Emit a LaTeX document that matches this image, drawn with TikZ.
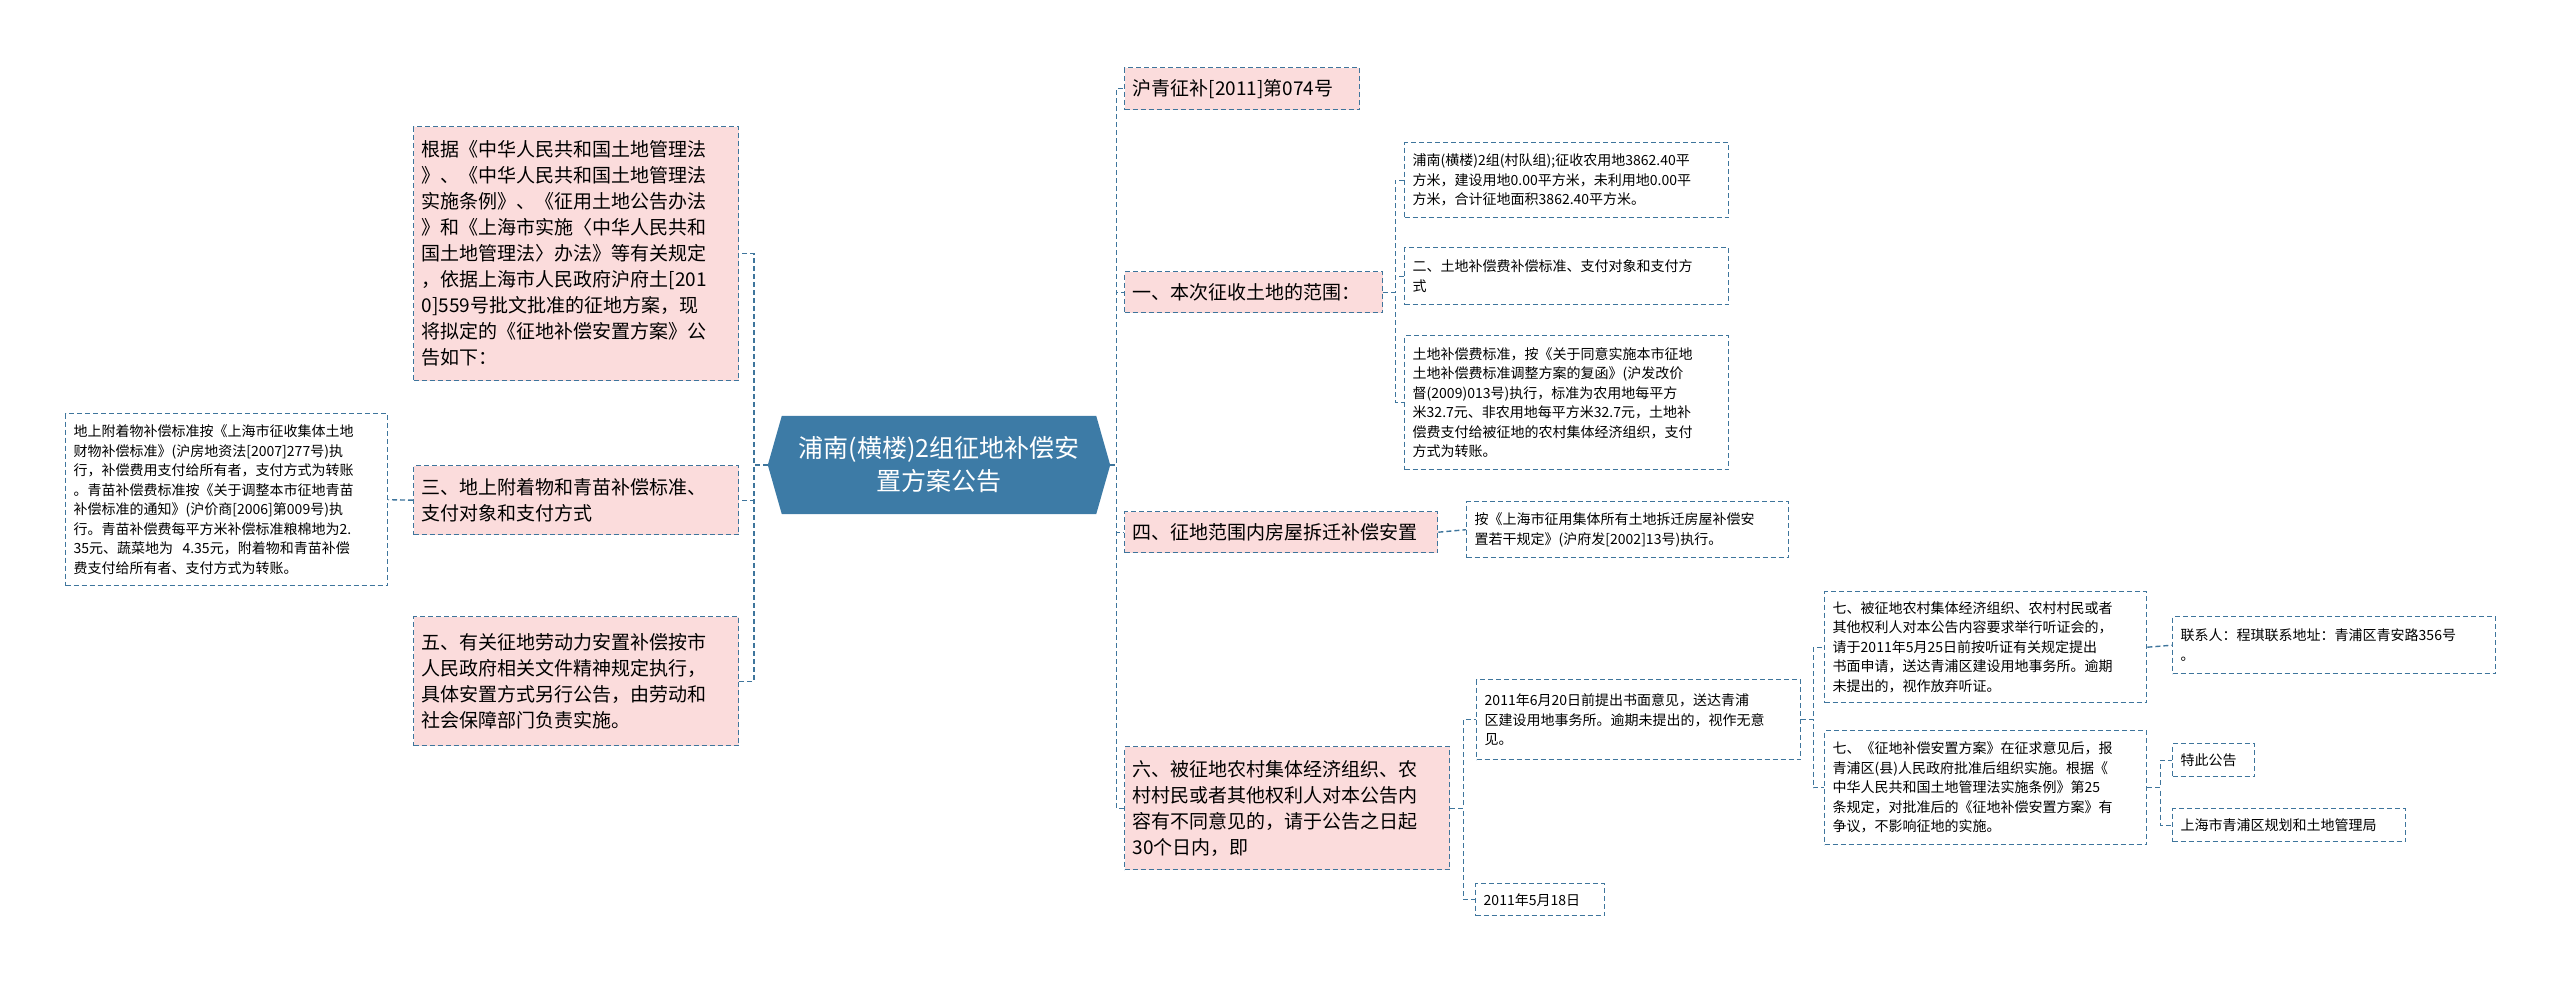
\documentclass[tikz,border=0pt]{standalone}
\usepackage{fontspec}
\setmainfont{Noto Sans CJK SC}
\definecolor{linec}{HTML}{3E759C}
\definecolor{pinkc}{HTML}{FBDCDC}
\definecolor{rootc}{HTML}{3D7BA6}
\begin{document}
\begin{tikzpicture}[x=1pt, y=-1pt,
  box/.style={draw=linec, dashed, line width=1.4pt, dash pattern=on 5pt off 3pt,
    anchor=north west, align=left, inner sep=8pt},
  big/.style={box, fill=pinkc, font=\fontsize{19}{26}\selectfont},
  small/.style={box, fill=white, font=\fontsize{14}{19.5}\selectfont},
  link/.style={draw=linec, dashed, line width=1.4pt, dash pattern=on 5pt off 3pt}]
\useasboundingbox (0,0) rectangle (2560,982);
% root
\node[text=white, font=\fontsize{25}{33}\selectfont, align=center,
  minimum width=342, minimum height=98] (root) at (939,465)
  {浦南(横楼)2组征地补偿安\\置方案公告};
\fill[rootc] (root.west) -- ([xshift=14]root.north west) -- ([xshift=-14]root.north east)
  -- (root.east) -- ([xshift=-14]root.south east) -- ([xshift=14]root.south west) -- cycle;
\node[text=white, font=\fontsize{25}{33}\selectfont, align=center] at (root) {浦南(横楼)2组征地补偿安\\置方案公告};
% left side
\node[big, text width=309, minimum height=254] (l1) at (413,126) {根据《中华人民共和国土地管理法\\》、《中华人民共和国土地管理法\\实施条例》、《征用土地公告办法\\》和《上海市实施〈中华人民共和\\国土地管理法〉办法》等有关规定\\，依据上海市人民政府沪府土[201\\0]559号批文批准的征地方案，现\\将拟定的《征地补偿安置方案》公\\告如下：};
\node[big, text width=309, minimum height=69] (l2) at (413,465) {三、地上附着物和青苗补偿标准、\\支付对象和支付方式};
\node[big, text width=309, minimum height=129] (l3) at (413,616) {五、有关征地劳动力安置补偿按市\\人民政府相关文件精神规定执行，\\具体安置方式另行公告，由劳动和\\社会保障部门负责实施。};
\node[small, text width=306, minimum height=172] (l2a) at (65,413) {地上附着物补偿标准按《上海市征收集体土地\\财物补偿标准》(沪房地资法[2007]277号)执\\行，补偿费用支付给所有者，支付方式为转账\\。青苗补偿费标准按《关于调整本市征地青苗\\补偿标准的通知》(沪价商[2006]第009号)执\\行。青苗补偿费每平方米补偿标准粮棉地为2.\\35元、蔬菜地为\ \ 4.35元，附着物和青苗补偿\\费支付给所有者、支付方式为转账。};
% right side
\node[big, text width=219, minimum height=42] (r0) at (1124,67) {沪青征补[2011]第074号};
\node[big, text width=242, minimum height=41] (r1) at (1124,271) {一、本次征收土地的范围：};
\node[big, text width=297, minimum height=41] (r2) at (1124,511) {四、征地范围内房屋拆迁补偿安置};
\node[big, text width=309, minimum height=123] (r3) at (1124,746) {六、被征地农村集体经济组织、农\\村村民或者其他权利人对本公告内\\容有不同意见的，请于公告之日起\\30个日内，即};
\node[small, text width=308, minimum height=75] (r1a) at (1404,142) {浦南(横楼)2组(村队组);征收农用地3862.40平\\方米，建设用地0.00平方米，未利用地0.00平\\方米，合计征地面积3862.40平方米。};
\node[small, text width=308, minimum height=57] (r1b) at (1404,247) {二、土地补偿费补偿标准、支付对象和支付方\\式};
\node[small, text width=308, minimum height=134] (r1c) at (1404,335) {土地补偿费标准，按《关于同意实施本市征地\\土地补偿费标准调整方案的复函》(沪发改价\\督(2009)013号)执行，标准为农用地每平方\\米32.7元、非农用地每平方米32.7元，土地补\\偿费支付给被征地的农村集体经济组织，支付\\方式为转账。};
\node[small, text width=306, minimum height=56] (r2a) at (1466,501) {按《上海市征用集体所有土地拆迁房屋补偿安\\置若干规定》(沪府发[2002]13号)执行。};
\node[small, text width=308, minimum height=80] (r3a) at (1476,679) {2011年6月20日前提出书面意见，送达青浦\\区建设用地事务所。逾期未提出的，视作无意\\见。};
\node[small, text width=113, minimum height=32] (r3b) at (1475,883) {2011年5月18日};
\node[small, text width=306, minimum height=111] (s1) at (1824,591) {七、被征地农村集体经济组织、农村村民或者\\其他权利人对本公告内容要求举行听证会的，\\请于2011年5月25日前按听证有关规定提出\\书面申请，送达青浦区建设用地事务所。逾期\\未提出的，视作放弃听证。};
\node[small, text width=306, minimum height=114] (s2) at (1824,730) {七、《征地补偿安置方案》在征求意见后，报\\青浦区(县)人民政府批准后组织实施。根据《\\中华人民共和国土地管理法实施条例》第25\\条规定，对批准后的《征地补偿安置方案》有\\争议，不影响征地的实施。};
\node[small, text width=307, minimum height=57] (t1) at (2172,616) {联系人：程琪联系地址：青浦区青安路356号\\。};
\node[small, text width=66, minimum height=33] (t2) at (2172,743) {特此公告};
\node[small, text width=217, minimum height=33] (t3) at (2172,808) {上海市青浦区规划和土地管理局};
% connectors
\foreach \c in {l1,l2,l3}
  \draw[link] (root.west) -- ++(-14,0) |- (\c.east);
\draw[link] (l2.west) -- (l2a.east);
\foreach \c in {r0,r1,r2,r3}
  \draw[link] (root.east) -- ++(6,0) |- (\c.west);
\foreach \c in {r1a,r1b,r1c}
  \draw[link] (r1.east) -- ++(12,0) |- (\c.west);
\draw[link] (r2.east) -- (r2a.west);
\foreach \c in {r3a,r3b}
  \draw[link] (r3.east) -- ++(13,0) |- (\c.west);
\foreach \c in {s1,s2}
  \draw[link] (r3a.east) -- ++(12,0) |- (\c.west);
\draw[link] (s1.east) -- (t1.west);
\foreach \c in {t2,t3}
  \draw[link] (s2.east) -- ++(13,0) |- (\c.west);
\end{tikzpicture}
\end{document}
